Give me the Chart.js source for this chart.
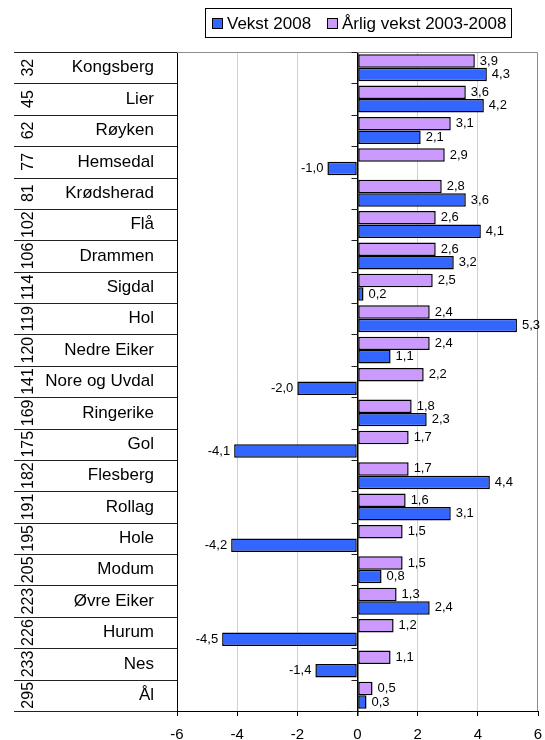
<!DOCTYPE html>
<html>
<head>
<meta charset="utf-8">
<script src="https://cdn.jsdelivr.net/npm/chart.js@4/dist/chart.umd.min.js"></script>
<style>
    body { margin: 0; background: #fff; }
    canvas { display: block; }
</style>
</head>
<body>
<canvas id="vekst" width="545" height="740"></canvas>
<script>
// data
var kommuner = ["Kongsberg", "Lier", "Røyken", "Hemsedal", "Krødsherad", "Flå", "Drammen", "Sigdal", "Hol", "Nedre Eiker",
    "Nore og Uvdal", "Ringerike", "Gol", "Flesberg", "Rollag", "Hole", "Modum", "Øvre Eiker", "Hurum", "Nes", "Ål"];
var rang = ["32", "45", "62", "77", "81", "102", "106", "114", "119", "120", "141", "169", "175", "182", "191", "195",
    "205", "223", "226", "233", "295"];
var vekst2008 = [4.3, 4.2, 2.1, -1.0, 3.6, 4.1, 3.2, 0.2, 5.3, 1.1, -2.0, 2.3, -4.1, 4.4, 3.1, -4.2, 0.8, 2.4, -4.5, -1.4, 0.3];
var aarligVekst = [3.9, 3.6, 3.1, 2.9, 2.8, 2.6, 2.6, 2.5, 2.4, 2.4, 2.2, 1.8, 1.7, 1.7, 1.6, 1.5, 1.5, 1.3, 1.2, 1.1, 0.5];

Chart.defaults.font.family = "'Liberation Sans', Arial, sans-serif";
Chart.defaults.color = "#000";

function komma(v) {
    return v.toFixed(1).replace('.', ',');
}

// rank column, row lines, plot frame, value labels and legend
var tabell = {
    id: 'tabell',
    afterDatasetsDraw: function (chart) {
        var ctx = chart.ctx;
        var area = chart.chartArea;
        var y = chart.scales.y;
        var x = chart.scales.x;
        var n = kommuner.length;
        var rad = (y.bottom - y.top) / n;
        var x0 = x.getPixelForValue(0);
        ctx.save();

        // grey frame top/right
        ctx.strokeStyle = "#8c8c8c";
        ctx.lineWidth = 1;
        ctx.beginPath();
        ctx.moveTo(area.left, area.top + 0.5);
        ctx.lineTo(area.right - 0.5, area.top + 0.5);
        ctx.lineTo(area.right - 0.5, area.bottom);
        ctx.stroke();

        // row separators + ticks on zero line
        ctx.strokeStyle = "#222";
        for (var i = 0; i <= n; i++) {
            var py = Math.round(y.top + i * rad) + 0.5;
            ctx.beginPath();
            ctx.moveTo(14, py);
            ctx.lineTo(area.left, py);
            ctx.stroke();
            ctx.beginPath();
            ctx.moveTo(x0 - 6, py);
            ctx.lineTo(x0, py);
            ctx.stroke();
        }

        // rotated rank numbers
        ctx.fillStyle = "#000";
        ctx.font = "16px 'Liberation Sans', Arial, sans-serif";
        ctx.textAlign = "center";
        ctx.textBaseline = "middle";
        for (var j = 0; j < n; j++) {
            ctx.save();
            ctx.translate(29, y.getPixelForValue(j));
            ctx.rotate(-Math.PI / 2);
            ctx.fillText(rang[j], 0, 0);
            ctx.restore();
        }

        // value labels
        ctx.font = "13px 'Liberation Sans', Arial, sans-serif";
        chart.data.datasets.forEach(function (ds, di) {
            var meta = chart.getDatasetMeta(di);
            meta.data.forEach(function (bar, k) {
                var v = ds.data[k];
                if (v >= 0) {
                    ctx.textAlign = "left";
                    ctx.fillText(komma(v), bar.x + 5, bar.y);
                } else {
                    ctx.textAlign = "right";
                    ctx.fillText(komma(v), bar.x - 4, bar.y);
                }
            });
        });

        // legend (Vekst 2008 first)
        ctx.strokeStyle = "#000";
        ctx.strokeRect(205.5, 8.5, 306, 29);
        ctx.font = "17px 'Liberation Sans', Arial, sans-serif";
        ctx.textAlign = "left";
        var items = [chart.data.datasets[1], chart.data.datasets[0]];
        var lx = [212, 327];
        items.forEach(function (ds, li) {
            ctx.fillStyle = ds.backgroundColor;
            ctx.fillRect(lx[li] + 0.5, 18.5, 10, 10);
            ctx.strokeRect(lx[li] + 0.5, 18.5, 10, 10);
            ctx.fillStyle = "#000";
            ctx.fillText(ds.label, lx[li] + 15, 24);
        });
        ctx.restore();
    }
};

var vekst = document.getElementById('vekst');
var vekst_chart = new Chart(vekst, {
    type: 'bar',
    data: {
        labels: kommuner,
        datasets: [
            {
                label: "Årlig vekst 2003-2008",
                data: aarligVekst,
                backgroundColor: "#cc99ff",
                borderColor: "#000",
                borderWidth: 1.5,
                borderSkipped: false,
                categoryPercentage: 0.86,
                barPercentage: 1.0
            },
            {
                label: "Vekst 2008",
                data: vekst2008,
                backgroundColor: "#3366ff",
                borderColor: "#000",
                borderWidth: 1.5,
                borderSkipped: false,
                categoryPercentage: 0.86,
                barPercentage: 1.0
            }
        ]
    },
    options: {
        indexAxis: 'y',
        responsive: false,
        animation: false,
        layout: { padding: { top: 52, left: 14, right: 7, bottom: 0 } },
        plugins: {
            legend: { display: false },
            tooltip: { enabled: false }
        },
        scales: {
            x: {
                min: -6,
                max: 6,
                ticks: { stepSize: 2, padding: 10, font: { size: 15 } },
                grid: {
                    color: function (c) {
                        if (!c.tick) return 'rgba(0,0,0,0)';
                        if (c.tick.value === 0) return '#000';
                        if (c.tick.value === -6 || c.tick.value === 6) return 'rgba(0,0,0,0)';
                        return '#ccccff';
                    },
                    lineWidth: function (c) {
                        return c.tick && c.tick.value === 0 ? 1.5 : 1;
                    },
                    tickColor: '#000',
                    tickLength: 5
                },
                border: { color: '#000', width: 1 },
                afterFit: function (scale) {
                    scale.height = 29;
                    scale.paddingLeft = 0;
                    scale.paddingRight = 0;
                }
            },
            y: {
                grid: { display: false },
                ticks: { padding: 15, font: { size: 17 } },
                border: { color: '#000', width: 1 },
                afterFit: function (scale) { scale.width = 163; }
            }
        }
    },
    plugins: [tabell]
});
</script>
</body>
</html>
